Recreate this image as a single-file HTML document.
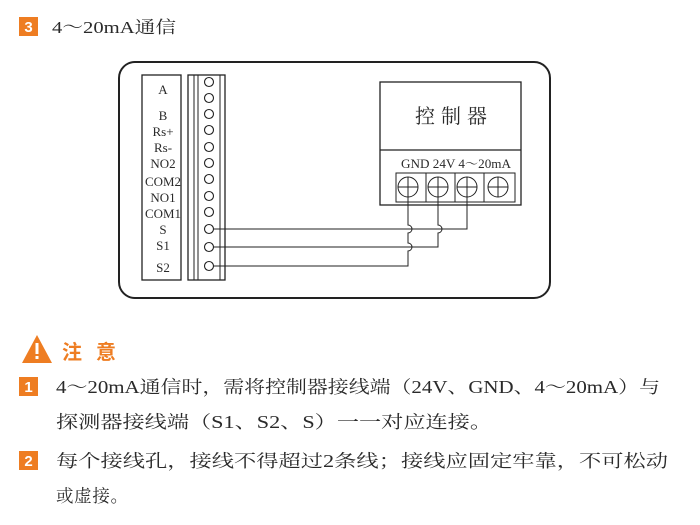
<!DOCTYPE html>
<html><head><meta charset="utf-8"><style>
body{margin:0;background:#fff;width:700px;height:525px;overflow:hidden}
svg{display:block}
.t{font-family:"Liberation Serif","Noto Serif CJK SC",serif;fill:#2a2a2a}
</style></head><body>
<svg width="700" height="525" viewBox="0 0 700 525">
<rect x="19" y="17" width="19" height="19" fill="#ee7d22"/>
<text x="28.5" y="32" text-anchor="middle" font-family="Liberation Sans,sans-serif" font-weight="bold" font-size="15" fill="#fff">3</text>
<text class="t" x="52" y="33" font-size="17" textLength="124" lengthAdjust="spacingAndGlyphs">4～20mA通信</text>

<rect x="119" y="62" width="431" height="236" rx="16" fill="none" stroke="#222" stroke-width="2"/>
<rect x="142" y="75" width="39" height="205" fill="none" stroke="#222" stroke-width="1.3"/>
<g class="t" font-size="13" text-anchor="middle">
<text x="163" y="94">A</text>
<text x="163" y="120">B</text>
<text x="163" y="136">Rs+</text>
<text x="163" y="152">Rs-</text>
<text x="163" y="168">NO2</text>
<text x="163" y="186" textLength="36" lengthAdjust="spacingAndGlyphs">COM2</text>
<text x="163" y="202">NO1</text>
<text x="163" y="218" textLength="36" lengthAdjust="spacingAndGlyphs">COM1</text>
<text x="163" y="234">S</text>
<text x="163" y="250">S1</text>
<text x="163" y="272">S2</text>
</g>
<rect x="188" y="75" width="37" height="205" fill="none" stroke="#222" stroke-width="1.3"/>
<line x1="194" y1="75" x2="194" y2="280" stroke="#222" stroke-width="1"/>
<line x1="198" y1="75" x2="198" y2="280" stroke="#222" stroke-width="1"/>
<line x1="220" y1="75" x2="220" y2="280" stroke="#222" stroke-width="1"/>
<g fill="#fff" stroke="#222" stroke-width="1.1">
<circle cx="209" cy="82" r="4.5"/><circle cx="209" cy="98" r="4.5"/><circle cx="209" cy="114" r="4.5"/>
<circle cx="209" cy="130" r="4.5"/><circle cx="209" cy="147" r="4.5"/><circle cx="209" cy="163" r="4.5"/>
<circle cx="209" cy="179" r="4.5"/><circle cx="209" cy="196" r="4.5"/><circle cx="209" cy="212" r="4.5"/>
<circle cx="209" cy="229" r="4.5"/><circle cx="209" cy="247" r="4.5"/><circle cx="209" cy="266" r="4.5"/>
</g>
<rect x="380" y="82" width="141" height="123" fill="none" stroke="#222" stroke-width="1.3"/>
<line x1="380" y1="150" x2="521" y2="150" stroke="#222" stroke-width="1.3"/>
<text class="t" x="451" y="123" font-size="20" text-anchor="middle" textLength="72" lengthAdjust="spacing">控制器</text>
<text class="t" x="401" y="168" font-size="12.5" textLength="110" lengthAdjust="spacingAndGlyphs">GND 24V 4～20mA</text>
<rect x="396" y="173" width="119" height="29" fill="none" stroke="#222" stroke-width="1"/>
<g stroke="#222" stroke-width="1" fill="none">
<line x1="426" y1="173" x2="426" y2="202"/><line x1="455" y1="173" x2="455" y2="202"/><line x1="484" y1="173" x2="484" y2="202"/>
<circle cx="408" cy="187" r="10"/><line x1="398" y1="187" x2="418" y2="187"/>
<circle cx="438" cy="187" r="10"/><line x1="428" y1="187" x2="448" y2="187"/>
<circle cx="467" cy="187" r="10"/><line x1="457" y1="187" x2="477" y2="187"/>
<circle cx="498" cy="187" r="10"/><line x1="488" y1="187" x2="508" y2="187"/><line x1="498" y1="177" x2="498" y2="197"/>
<path d="M213 229 H467 V177"/>
<path d="M213 247 H438 V233 a4 4 0 0 0 0 -8 V177"/>
<path d="M213 266 H408 V251 a4 4 0 0 0 0 -8 V233 a4 4 0 0 0 0 -8 V177"/>
</g>

<path d="M22 363 L37 335 L52 363 Z" fill="#ee7d22"/>
<rect x="35.5" y="343" width="3" height="11" fill="#fff"/>
<rect x="35.5" y="356" width="3" height="3" fill="#fff"/>
<text x="62" y="359" font-family="'Noto Sans CJK SC',sans-serif" font-weight="bold" font-size="20" fill="#ee7d22" textLength="54" lengthAdjust="spacing">注意</text>

<rect x="19" y="377" width="19" height="19" fill="#ee7d22"/>
<text x="28.5" y="392" text-anchor="middle" font-family="Liberation Sans,sans-serif" font-weight="bold" font-size="15" fill="#fff">1</text>
<text class="t" x="56" y="393" font-size="17.5" textLength="604" lengthAdjust="spacingAndGlyphs">4～20mA通信时，需将控制器接线端（24V、GND、4～20mA）与</text>
<text class="t" x="56" y="428" font-size="17.5" textLength="436" lengthAdjust="spacingAndGlyphs">探测器接线端（S1、S2、S）一一对应连接。</text>

<rect x="19" y="451" width="19" height="19" fill="#ee7d22"/>
<text x="28.5" y="466" text-anchor="middle" font-family="Liberation Sans,sans-serif" font-weight="bold" font-size="15" fill="#fff">2</text>
<text class="t" x="56" y="467" font-size="17.5" textLength="612" lengthAdjust="spacingAndGlyphs">每个接线孔，接线不得超过2条线；接线应固定牢靠，不可松动</text>
<text class="t" x="56" y="502" font-size="17.5" textLength="72" lengthAdjust="spacing">或虚接。</text>
</svg>
</body></html>
